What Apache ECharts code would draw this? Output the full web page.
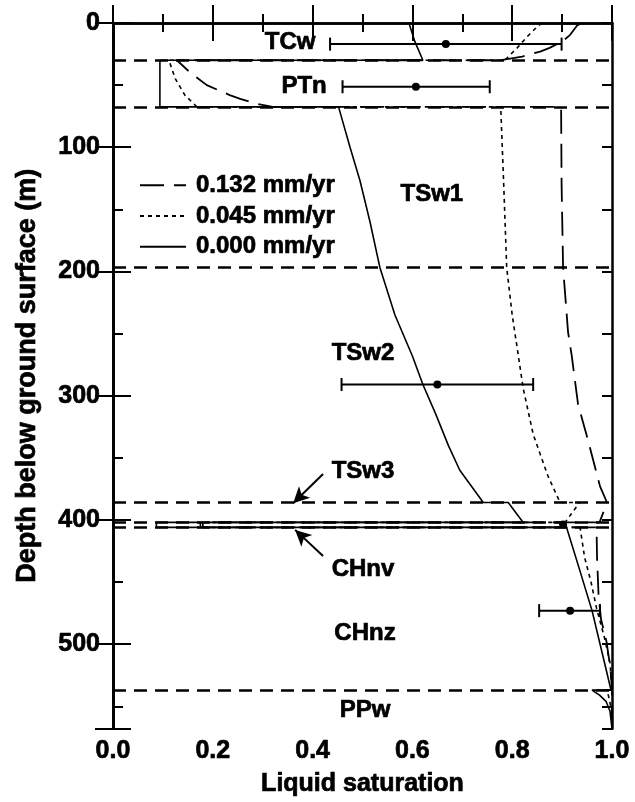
<!DOCTYPE html>
<html>
<head>
<meta charset="utf-8">
<script src="https://cdn.jsdelivr.net/npm/echarts@6/dist/echarts.min.js"></script>
<style>
html,body{margin:0;padding:0;background:#fff;}
#chart{width:635px;height:802px;}
</style>
</head>
<body>
<div id="chart"></div>
<script>
// ---------- data ----------
const seriesNames = ['0.132 mm/yr', '0.045 mm/yr', '0.000 mm/yr'];

// [liquid saturation, depth (m)]
const curve132 = [
  [0.94,0],[0.93,2],[0.915,10],[0.90,15],[0.875,20],[0.856,23],[0.82,27],[0.776,30],
  [0.128,30],[0.155,40],[0.188,50],[0.234,58],[0.255,61],[0.288,65],[0.32,67.5],
  [0.898,67.5],[0.899,130],[0.902,197],[0.912,249],[0.919,267],[0.932,307],[0.952,336],[0.976,373],[0.99,386],
  [0.975,402],[0.18,402],[0.18,406],[0.969,406],
  [0.970,430],[0.973,460],[0.978,480],[0.989,498],[0.997,520],[1.0,537],[1.0,568]
];
const curve045 = [
  [0.86,0],[0.85,3],[0.83,11],[0.81,20],[0.79,28],[0.785,30],
  [0.112,30],[0.125,45],[0.144,58],[0.168,67.5],
  [0.777,67.5],[0.783,130],[0.789,197],[0.800,235],[0.812,267],[0.822,294],[0.842,331],[0.856,347],[0.872,365],[0.896,386],
  [0.935,386],[0.906,402],[0.175,402],[0.175,406],[0.936,406],
  [0.945,430],[0.958,450],[0.969,471],[0.985,495],[0.996,515],[1.0,537],
  [0.99,537],[0.995,545],[1.0,556],[1.0,568]
];
const curve000 = [
  [0.593,0],[0.605,15],[0.621,30],
  [0.094,30],[0.094,67.5],
  [0.452,67.5],[0.475,100],[0.495,127],[0.515,160],[0.529,186],[0.535,197],[0.565,235],[0.600,268],[0.621,291],[0.647,315],[0.672,340],[0.695,360],[0.742,386],
  [0.792,386],[0.822,402],
  [0.087,402],[0.087,406],[0.909,406],
  [0.935,440],[0.960,473],[0.985,515],[0.998,537],
  [0.96,537],[0.975,541],[0.988,546],[0.996,554],[1.0,568]
];

// measured points with error bars
const errCenter = [0.667, 0.607, 0.650, 0.902, 0.916];
const errDepth  = [17, 51.3, 291, 403.7, 473];
const errLow    = [0.435, 0.460, 0.458, 0.902, 0.854];
const errHigh   = [0.899, 0.755, 0.842, 0.902, 0.976];

// unit boundaries (m)
const boundaryDepths = [30, 67.5, 197, 386, 402, 406, 537];

// unit labels
const unitNames = ['TCw','PTn','TSw1','TSw2','TSw3','CHnv','CHnz','PPw'];
const unitLabelX = [0.355, 0.383, 0.639, 0.501, 0.501, 0.501, 0.505, 0.505];
const unitLabelDepth = [15.9, 51.2, 138, 266, 360.6, 440, 491.6, 553];

// arrows [fromX, fromDepth, toX, toDepth]
const arrows = [[0.421, 363, 0.361, 386.5], [0.421, 429, 0.365, 408]];

const xTickLabels = ['0.0','0.2','0.4','0.6','0.8','1.0'];
const yTickLabels = ['0','100','200','300','400','500'];

// ---------- chart ----------
const FONT = '"Liberation Sans", Arial, Helvetica, sans-serif';
const heavy = {fontFamily: FONT, fontWeight: 'bold', color: '#000', textBorderColor: '#000', textBorderWidth: 0.7};
const chart = echarts.init(document.getElementById('chart'), null, {renderer: 'canvas'});

const axisLine = {show: true, lineStyle: {color: '#000', width: 2.5}};
const majorX = {
  type: 'value', min: 0, max: 1, interval: 0.2,
  axisLine: axisLine,
  axisTick: {show: true, inside: true, length: 18, lineStyle: {color: '#000', width: 2}},
  minorTick: {show: true, splitNumber: 2, length: 9, lineStyle: {color: '#000', width: 2}},
  splitLine: {show: false}, minorSplitLine: {show: false}
};
const yBase = {type: 'value', min: 0, max: 568, inverse: true, splitLine: {show: false}, axisLine: axisLine};

chart.setOption({
  animation: false,
  backgroundColor: '#fff',
  grid: {left: 113, right: 23, top: 23, bottom: 64, containLabel: false},
  legend: {
    data: seriesNames,
    orient: 'vertical',
    left: 134, top: 168,
    itemWidth: 46, itemHeight: 14, itemGap: 6,
    itemStyle: {opacity: 0, borderWidth: 0},
    textStyle: Object.assign({fontSize: 24, lineHeight: 24, padding: [0,0,0,5]}, heavy)
  },
  xAxis: [
    Object.assign({}, majorX, {
      position: 'bottom',
      axisLabel: Object.assign({show: true, margin: 10, fontSize: 25,
        formatter: v => { const i = Math.round(v / 0.2); return Math.abs(v - i * 0.2) < 1e-6 ? xTickLabels[i] : ''; }}, heavy),
      name: 'Liquid saturation', nameLocation: 'middle', nameGap: 43,
      nameTextStyle: Object.assign({fontSize: 25}, heavy)
    }),
    Object.assign({}, majorX, {position: 'top', axisLabel: {show: false}})
  ],
  yAxis: [
    Object.assign({}, yBase, {
      position: 'left', interval: 100,
      axisTick: {show: true, inside: true, length: 18, lineStyle: {color: '#000', width: 2}},
      axisLabel: Object.assign({show: true, margin: 13, fontSize: 25,
        formatter: v => (v % 100 === 0 ? yTickLabels[v / 100] : '')}, heavy),
      name: 'Depth below ground surface (m)', nameLocation: 'middle', nameGap: 72, nameRotate: 90,
      nameTextStyle: Object.assign({fontSize: 27}, heavy)
    }),
    Object.assign({}, yBase, {
      position: 'right', interval: 100,
      axisTick: {show: true, inside: true, length: 18, lineStyle: {color: '#000', width: 2}},
      axisLabel: {show: false}
    }),
    Object.assign({}, yBase, {
      position: 'left', interval: 50,
      axisTick: {show: true, inside: true, length: 10, lineStyle: {color: '#000', width: 2}},
      axisLabel: {show: false}
    }),
    Object.assign({}, yBase, {
      position: 'right', interval: 50,
      axisTick: {show: true, inside: true, length: 10, lineStyle: {color: '#000', width: 2}},
      axisLabel: {show: false}
    })
  ],
  series: [
    {
      name: seriesNames[0], type: 'line', data: curve132, symbol: 'none', showSymbol: false,
      lineStyle: {color: '#000', width: 1.8, type: [24, 10]}, itemStyle: {color: '#000'}, z: 3,
      markLine: {
        silent: true, symbol: 'none', label: {show: false},
        lineStyle: {color: '#000', width: 2.5, type: [13, 8]},
        data: boundaryDepths.map(d => ({yAxis: d}))
      }
    },
    {
      name: seriesNames[1], type: 'line', data: curve045, symbol: 'none', showSymbol: false,
      lineStyle: {color: '#000', width: 1.6, type: [4, 4]}, itemStyle: {color: '#000'}, z: 3
    },
    {
      name: seriesNames[2], type: 'line', data: curve000, symbol: 'none', showSymbol: false,
      lineStyle: {color: '#000', width: 1.6, type: 'solid'}, itemStyle: {color: '#000'}, z: 3,
      markLine: {
        silent: true, symbol: ['none', 'arrow'], symbolSize: [12, 16], label: {show: false},
        lineStyle: {color: '#000', width: 2, type: 'solid'},
        data: arrows.map(a => [{coord: [a[0], a[1]]}, {coord: [a[2], a[3]]}])
      }
    },
    {
      type: 'custom', z: 5,
      data: errCenter.map((c, i) => [c, errDepth[i], errLow[i], errHigh[i]]),
      renderItem: function (params, api) {
        const c = api.coord([api.value(0), api.value(1)]);
        const l = api.coord([api.value(2), api.value(1)]);
        const h = api.coord([api.value(3), api.value(1)]);
        const st = {stroke: '#000', lineWidth: 2};
        const ch = [];
        if (h[0] - l[0] > 1) {
          ch.push({type: 'line', shape: {x1: l[0], y1: l[1], x2: h[0], y2: h[1]}, style: st});
          ch.push({type: 'line', shape: {x1: l[0], y1: l[1] - 6.5, x2: l[0], y2: l[1] + 6.5}, style: st});
          ch.push({type: 'line', shape: {x1: h[0], y1: h[1] - 6.5, x2: h[0], y2: h[1] + 6.5}, style: st});
        }
        ch.push({type: 'circle', shape: {cx: c[0], cy: c[1], r: 4}, style: {fill: '#000'}});
        return {type: 'group', children: ch};
      }
    },
    {
      type: 'scatter', symbolSize: 0, z: 6, silent: true,
      itemStyle: {opacity: 1, color: '#000'},
      data: unitNames.map((n, i) => ({name: n, value: [unitLabelX[i], unitLabelDepth[i]]})),
      label: Object.assign({show: true, position: 'inside', formatter: p => p.name, fontSize: 24}, heavy)
    }
  ]
});
</script>
</body>
</html>
